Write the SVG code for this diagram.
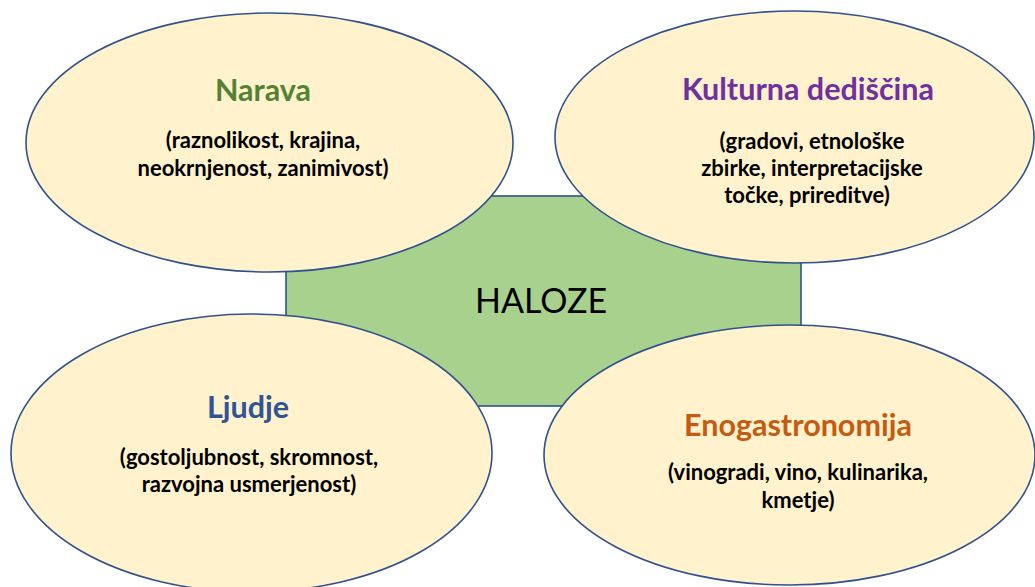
<svg xmlns="http://www.w3.org/2000/svg" width="1035" height="587" viewBox="0 0 1035 587">
  <style>
    .bubble { fill: #fff2cc; stroke: #2f528f; stroke-width: 1.6; }
    .center { fill: #a9d18e; stroke: #2f528f; stroke-width: 1.6; }
    .title { font-family: "Lato", "Liberation Sans", sans-serif; font-weight: bold; font-size: 30.5px; text-anchor: middle; }
    .sub { font-family: "Lato", "Liberation Sans", sans-serif; font-weight: bold; font-size: 22px; fill: #000000; text-anchor: middle; }
    .main { font-family: "Lato", "Liberation Sans", sans-serif; font-size: 34px; fill: #000000; text-anchor: middle; }
  </style>
  <rect width="1035" height="587" fill="#ffffff"/>
  <g id="connectors"></g>
  <g id="node-haloze">
    <rect class="center" x="286" y="196" width="515" height="210"/>
    <text class="main" x="541" y="313">HALOZE</text>
  </g>
  <g id="node-narava">
    <ellipse class="bubble" cx="269.5" cy="142.5" rx="243.5" ry="129.5"/>
    <text class="title" x="263" y="101" fill="#548235">Narava</text>
    <text class="sub" x="263" y="148">(raznolikost, krajina,</text>
    <text class="sub" x="263" y="176">neokrnjenost, zanimivost)</text>
  </g>
  <g id="node-kulturna">
    <ellipse class="bubble" cx="794.5" cy="137" rx="239.5" ry="126"/>
    <text class="title" x="808" y="100" fill="#7030a0">Kulturna dediščina</text>
    <text class="sub" x="812" y="149">(gradovi, etnološke</text>
    <text class="sub" x="812" y="176">zbirke, interpretacijske</text>
    <text class="sub" x="807" y="203">točke, prireditve)</text>
  </g>
  <g id="node-ljudje">
    <ellipse class="bubble" cx="251.5" cy="453" rx="240.5" ry="139"/>
    <text class="title" x="248" y="418" fill="#2f5597">Ljudje</text>
    <text class="sub" x="249" y="465">(gostoljubnost, skromnost,</text>
    <text class="sub" x="249" y="492">razvojna usmerjenost)</text>
  </g>
  <g id="node-enogastronomija">
    <ellipse class="bubble" cx="789.5" cy="455" rx="245.5" ry="130"/>
    <text class="title" x="798" y="436" fill="#c55a11">Enogastronomija</text>
    <text class="sub" x="798" y="480">(vinogradi, vino, kulinarika,</text>
    <text class="sub" x="798" y="508">kmetje)</text>
  </g>
</svg>
